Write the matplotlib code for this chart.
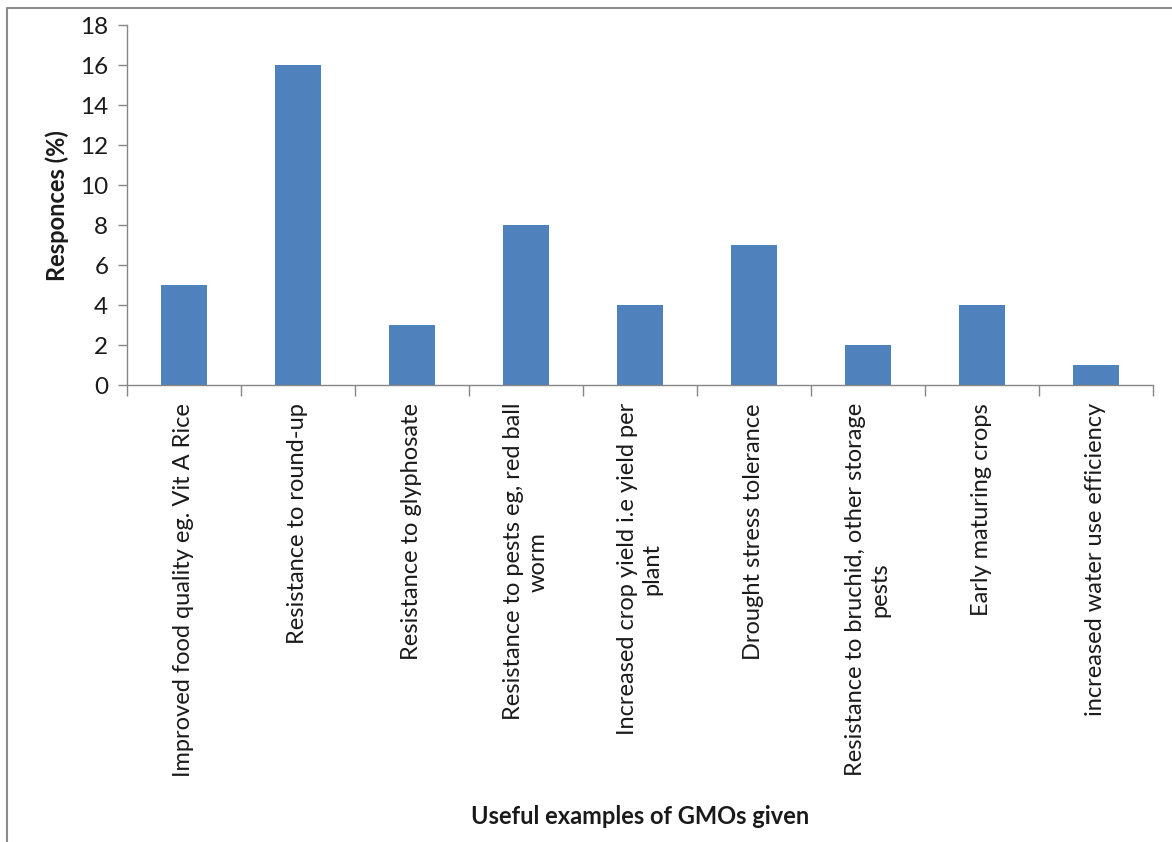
import matplotlib
matplotlib.use("Agg")
import matplotlib.pyplot as plt
from matplotlib.lines import Line2D

categories = [
    "Improved food quality eg. Vit A Rice",
    "Resistance to round-up",
    "Resistance to glyphosate",
    "Resistance to pests eg, red ball\nworm",
    "Increased crop yield i.e yield per\nplant",
    "Drought stress tolerance",
    "Resistance to bruchid, other storage\npests",
    "Early maturing crops",
    "increased water use efficiency",
]
values = [5, 16, 3, 8, 4, 7, 2, 4, 1]
yticks = [0, 2, 4, 6, 8, 10, 12, 14, 16, 18]

plt.rcParams['font.family'] = ['Lato', 'DejaVu Sans']

W, H = 1172, 842
fig = plt.figure(figsize=(W / 100, H / 100), dpi=100)
ax = fig.add_axes([127 / W, 1 - 385 / H, (1153 - 127) / W, (385 - 25) / H])

x = list(range(len(categories)))
ax.bar(x, values, width=0.41, color="#4F81BD", zorder=2)
ax.set_xlim(-0.5, len(categories) - 0.5)
ax.set_ylim(0, 18)
ax.set_yticks(yticks)
ax.set_yticklabels([str(t) for t in yticks], fontsize=17.5, color="#1a1a1a")

ax.set_xticks([i - 0.5 for i in range(len(categories) + 1)])
ax.set_xticklabels([])
ax.tick_params(axis='x', length=8, color="#868686", width=1)
ax.tick_params(axis='y', length=6.5, color="#868686", width=1, pad=7)

for i, c in enumerate(categories):
    ax.text(i, -0.9, c, rotation=90, ha='center', va='top', fontsize=17,
            multialignment='center', color="#1a1a1a", transform=ax.transData,
            linespacing=1.2)

for s in ['top', 'right']:
    ax.spines[s].set_visible(False)
for s in ['left', 'bottom']:
    ax.spines[s].set_color("#868686")
    ax.spines[s].set_linewidth(1)

fig.text(57 / W, 1 - 206 / H, "Responces (%)", rotation=90, ha='center', va='center',
         fontsize=17, fontweight='bold', color="#1a1a1a")
fig.text(640 / W, 1 - 816 / H, "Useful examples of GMOs given", ha='center', va='center',
         fontsize=17, fontweight='bold', color="#1a1a1a")

fig.lines.append(Line2D([7 / W, 7 / W, 1.0], [0.0, 1 - 8 / H, 1 - 8 / H],
                        transform=fig.transFigure, color="#8c8c8c", linewidth=1.5))

fig.savefig("out.png", dpi=100)
